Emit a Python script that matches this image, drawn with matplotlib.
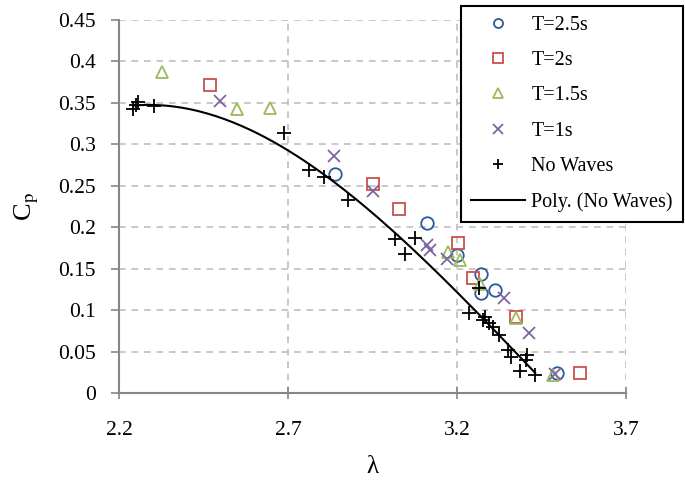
import numpy as np
import matplotlib
matplotlib.use("Agg")
import matplotlib.pyplot as plt

plt.rcParams['font.family'] = ['Liberation Serif', 'DejaVu Serif']
plt.rcParams['mathtext.fontset'] = 'stix'

# T=2.5s
lam_25 = [2.839, 3.110, 3.199, 3.271, 3.271, 3.312, 3.495]
cp_25 = [0.264, 0.2045, 0.166, 0.144, 0.120, 0.124, 0.0245]
# T=2s
lam_2 = [2.469, 2.952, 3.029, 3.204, 3.248, 3.375, 3.564]
cp_2 = [0.372, 0.2515, 0.222, 0.181, 0.139, 0.092, 0.0237]
# T=1.5s
lam_15 = [2.326, 2.548, 2.645, 3.174, 3.209, 3.268, 3.375, 3.485]
cp_15 = [0.387, 0.342, 0.344, 0.170, 0.160, 0.132, 0.090, 0.0217]
# T=1s
lam_1 = [2.499, 2.837, 2.952, 3.110, 3.120, 3.169, 3.339, 3.414, 3.490]
cp_1 = [0.352, 0.286, 0.2437, 0.178, 0.172, 0.1615, 0.114, 0.072, 0.023]
# No waves
lam_nw = [2.242, 2.255, 2.250, 2.304, 2.689, 2.763, 2.805, 2.878, 3.017, 3.046,
          3.076, 3.265, 3.234, 3.278, 3.283, 3.293, 3.307, 3.325, 3.352, 3.359,
          3.406, 3.404, 3.386, 3.431]
cp_nw = [0.342, 0.351, 0.347, 0.346, 0.314, 0.269, 0.260, 0.2325, 0.1855, 0.1675,
         0.187, 0.127, 0.096, 0.088, 0.092, 0.084, 0.080, 0.070, 0.052, 0.044,
         0.046, 0.040, 0.026, 0.022]

x_ticks = [2.2, 2.7, 3.2, 3.7]
y_ticks = [0, 0.05, 0.1, 0.15, 0.2, 0.25, 0.3, 0.35, 0.4, 0.45]
y_labels = ['0', '0.05', '0.1', '0.15', '0.2', '0.25', '0.3', '0.35', '0.4', '0.45']

fig = plt.figure(figsize=(6.85, 4.84), dpi=100)
ax = fig.add_axes([0.174, 0.188, 0.740, 0.771])

ms = 9
ax.plot(lam_25, cp_25, 'o', ls='', mfc='none', mec='#2a5a9c', mew=1.3, ms=ms, label='T=2.5s')
ax.plot(lam_2, cp_2, 's', ls='', mfc='none', mec='#c9504d', mew=1.3, ms=ms - 0.5, label='T=2s')
ax.plot(lam_15, cp_15, '^', ls='', mfc='none', mec='#9bbb59', mew=1.3, ms=ms, label='T=1.5s')
ax.plot(lam_1, cp_1, 'x', ls='', color='#8064a2', mew=1.3, ms=ms, label='T=1s')
ax.plot(lam_nw, cp_nw, '+', ls='', color='black', mew=1.3, ms=ms + 1, label='No Waves')

# polynomial trendline on the no-wave points
coef = np.polyfit(lam_nw, cp_nw, 3)
xs = np.linspace(min(lam_nw), max(lam_nw), 200)
ax.plot(xs, np.polyval(coef, xs), color='black', lw=1.5, label='Poly. (No Waves)')

ax.set_xlim(2.2, 3.7)
ax.set_ylim(0, 0.45)
ax.set_xticks(x_ticks)
ax.set_xticklabels([str(v) for v in x_ticks])
ax.set_yticks(y_ticks)
ax.set_yticklabels(y_labels)
ax.grid(True, color='#bfbfbf', ls=(0, (4, 3.5)), lw=1.2)
ax.set_axisbelow(True)
for s in ['top', 'right']:
    ax.spines[s].set_visible(False)
for s in ['left', 'bottom']:
    ax.spines[s].set_color('#868686')
    ax.spines[s].set_linewidth(1.5)
ax.tick_params(axis='both', labelsize=15.5, color='#868686', width=1.2, length=6)
ax.tick_params(axis='x', pad=16, direction='inout', length=8)
ax.tick_params(axis='y', pad=11)

ax.set_xlabel('λ', fontsize=18, labelpad=12)
ax.set_ylabel('C$_\\mathrm{p}$', fontsize=19, labelpad=12)

leg = fig.legend(loc='upper right', bbox_to_anchor=(0.997, 0.988), fontsize=14.5,
                 frameon=True, fancybox=False, edgecolor='black', framealpha=1,
                 handlelength=2.7, labelspacing=0.8, borderpad=0.5, borderaxespad=0,
                 handletextpad=0.3)
leg.get_frame().set_linewidth(1.5)
for h in leg.legend_handles[:5]:
    h.set_markersize(6.5)

fig.savefig('out.png', dpi=100)
